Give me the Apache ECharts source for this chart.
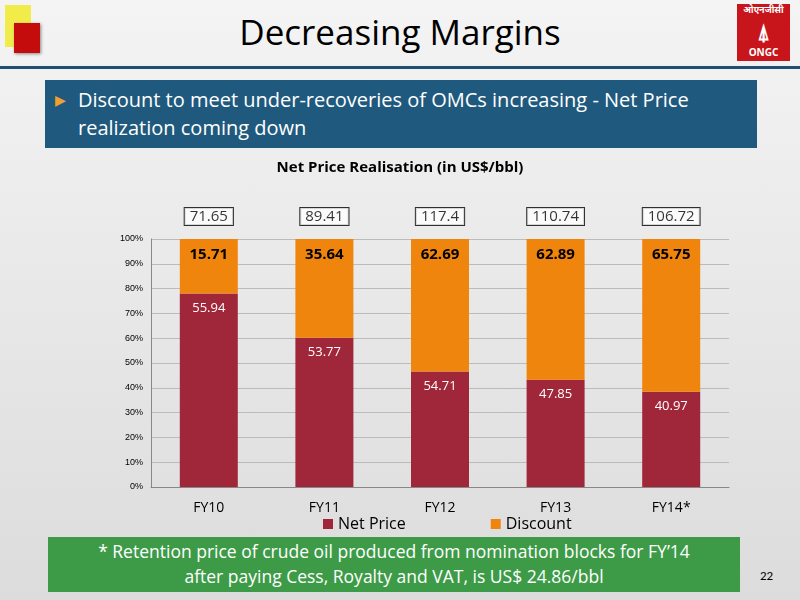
<!DOCTYPE html>
<html><head><meta charset="utf-8">
<script src="https://cdn.jsdelivr.net/npm/echarts@6/dist/echarts.min.js"></script>
<style>
body{margin:0;width:800px;height:600px;overflow:hidden;font-family:Calibri,'Open Sans',sans-serif;background:linear-gradient(#f4f4f4,#dcdcdc);position:relative}
#c{position:absolute;left:0;top:150px;width:800px;height:390px}
</style></head><body>
<div style="position:absolute;left:5px;top:5px;width:26px;height:42px;background:#f2ec4a"></div>
<div style="position:absolute;left:14px;top:23px;width:26px;height:30px;background:#c40c0c;box-shadow:1px 1px 3px #888"></div>
<div style="position:absolute;left:0;top:8px;width:800px;text-align:center;font-size:35px;font-family:'Open Sans',sans-serif;color:#000">Decreasing Margins</div>
<div style="position:absolute;left:737px;top:4px;width:53px;height:57px;background:#c8151b;color:#fff;font:bold 10px 'Noto Sans';text-align:center;line-height:12px"><div style="font-size:9px">ओएनजीसी</div><div style="font-size:22px;line-height:30px">⍋</div><div>ONGC</div></div>
<div style="position:absolute;left:0;top:66px;width:800px;height:3px;background:#1f4e70"></div>
<div style="position:absolute;left:45px;top:80px;width:712px;height:68px;background:#1f5a7e;color:#fff;font-size:20px;line-height:28px;font-family:'Open Sans',sans-serif;box-sizing:border-box;padding:6px 0 0 33px"><span style="position:absolute;left:10px;color:#f0a030;font-size:14px">&#9654;</span>Discount to meet under-recoveries of OMCs increasing - Net Price realization coming down</div>
<div id="c"></div>
<div style="position:absolute;left:48px;top:537px;width:692px;height:55px;background:#3d9b48;color:#fff;font-size:17.5px;line-height:25px;text-align:center;font-family:'Open Sans',sans-serif;padding-top:2px;box-sizing:border-box">* Retention price of crude oil produced from nomination blocks for FY’14<br>after paying Cess, Royalty and VAT, is US$ 24.86/bbl</div>
<div style="position:absolute;left:760px;top:568px;font-size:13px">22</div>
<script>
const categories=['FY10','FY11','FY12','FY13','FY14*'];
const netPrice=[55.94,53.77,54.71,47.85,40.97];
const discount=[15.71,35.64,62.69,62.89,65.75];
const totals=[71.65,89.41,117.4,110.74,106.72];
const yTicks=['0%','10%','20%','30%','40%','50%','60%','70%','80%','90%','100%'];
const sum=netPrice.map((v,i)=>v+discount[i]);
const ch=echarts.init(document.getElementById('c'));
ch.setOption({
 title:{text:'Net Price Realisation (in US$/bbl)',left:'center',top:5,textStyle:{fontSize:15,fontWeight:'bold',color:'#000',fontFamily:'Open Sans'}},
 grid:{left:151,right:71,top:89,bottom:53},
 legend:{bottom:3,left:318,itemWidth:10,itemHeight:10,itemGap:85,icon:'rect',textStyle:{fontSize:16,color:'#000',fontFamily:'Open Sans'},data:['Net Price','Discount']},
 xAxis:{type:'category',data:categories,axisTick:{show:false},axisLine:{lineStyle:{color:'#888'}},axisLabel:{fontSize:14,color:'#000',margin:14,fontFamily:'Open Sans'}},
 yAxis:{type:'value',min:0,max:100,interval:10,axisLine:{show:true,lineStyle:{color:'#888'}},splitLine:{lineStyle:{color:'#bbb'}},axisLabel:{fontSize:9,color:'#000',formatter:(v)=>yTicks[v/10]}},
 series:[
  {name:'Net Price',type:'bar',stack:'a',barWidth:58,itemStyle:{color:'#a0263a'},data:netPrice.map((v,i)=>v/sum[i]*100),
   label:{show:true,position:'insideTop',distance:8,color:'#fff',fontSize:13,fontFamily:'Open Sans',formatter:p=>netPrice[p.dataIndex]}},
  {name:'Discount',type:'bar',stack:'a',itemStyle:{color:'#f0850d'},data:discount.map((v,i)=>v/sum[i]*100),
   label:{show:true,position:'insideTop',distance:8,color:'#000',fontSize:15,fontWeight:'bold',fontFamily:'Open Sans',formatter:p=>discount[p.dataIndex]}},
  {type:'scatter',symbolSize:0,clip:false,silent:true,data:totals.map(()=>100),
   label:{show:true,position:'top',distance:14,color:'#000',fontSize:15,fontFamily:'Open Sans',backgroundColor:'#fff',borderColor:'#000',borderWidth:1,padding:[1,5],formatter:p=>totals[p.dataIndex]}}
 ]});
</script></body></html>
